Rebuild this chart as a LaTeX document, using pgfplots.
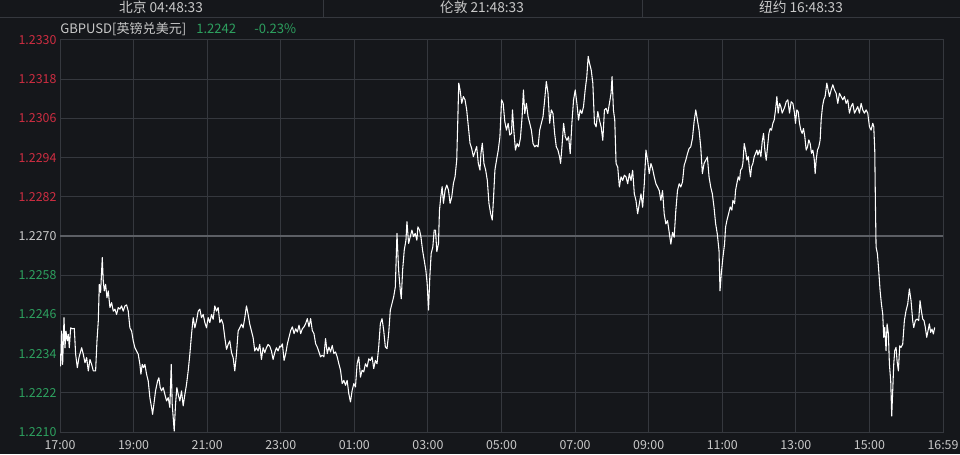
\documentclass[border=0pt]{standalone}
\usepackage{pgfplots}
\pgfplotsset{compat=1.18}
\usepackage{pgfplotstable}
\usepackage{fontspec}
\setmainfont{Noto Sans CJK SC}

\definecolor{bg}{HTML}{15171B}
\definecolor{gridc}{HTML}{35383E}
\definecolor{gridhi}{HTML}{5C5F65}
\definecolor{txt}{HTML}{C8C8C8}
\definecolor{upred}{RGB}{205,45,65}
\definecolor{dngreen}{RGB}{45,160,95}

% GBPUSD, hours after 17:00 vs price
\pgfplotstableread{
h v
0.000 1.22338
0.018 1.22302
0.045 1.22409
0.072 1.22307
0.109 1.22450
0.136 1.22358
0.163 1.22409
0.199 1.22379
0.226 1.22399
0.253 1.22358
0.290 1.22419
0.335 1.22416
0.389 1.22417
0.425 1.22338
0.471 1.22297
0.516 1.22328
0.588 1.22358
0.633 1.22338
0.679 1.22312
0.724 1.22328
0.769 1.22287
0.814 1.22322
0.860 1.22307
0.905 1.22287
0.968 1.22287
1.005 1.22379
1.041 1.22440
1.068 1.22552
1.104 1.22527
1.149 1.22634
1.176 1.22562
1.204 1.22532
1.240 1.22552
1.276 1.22511
1.312 1.22532
1.357 1.22481
1.403 1.22496
1.448 1.22470
1.493 1.22476
1.538 1.22460
1.584 1.22481
1.629 1.22476
1.674 1.22486
1.719 1.22470
1.765 1.22486
1.810 1.22489
1.855 1.22470
1.900 1.22419
1.946 1.22409
1.991 1.22379
2.036 1.22358
2.081 1.22348
2.127 1.22338
2.172 1.22307
2.199 1.22277
2.235 1.22307
2.271 1.22297
2.308 1.22307
2.353 1.22277
2.398 1.22256
2.443 1.22205
2.489 1.22175
2.516 1.22154
2.552 1.22185
2.597 1.22226
2.652 1.22256
2.688 1.22266
2.724 1.22236
2.760 1.22226
2.805 1.22236
2.851 1.22215
2.896 1.22195
2.941 1.22205
2.986 1.22175
3.023 1.22307
3.050 1.22185
3.077 1.22144
3.104 1.22103
3.140 1.22185
3.176 1.22236
3.213 1.22215
3.258 1.22195
3.303 1.22226
3.348 1.22180
3.394 1.22215
3.439 1.22246
3.484 1.22287
3.529 1.22338
3.575 1.22399
3.620 1.22450
3.665 1.22419
3.710 1.22440
3.756 1.22470
3.801 1.22476
3.846 1.22450
3.891 1.22460
3.937 1.22435
3.982 1.22419
4.027 1.22450
4.072 1.22435
4.118 1.22460
4.163 1.22445
4.208 1.22486
4.253 1.22470
4.299 1.22481
4.344 1.22435
4.389 1.22445
4.434 1.22430
4.480 1.22389
4.525 1.22353
4.570 1.22368
4.615 1.22379
4.661 1.22343
4.706 1.22328
4.751 1.22287
4.796 1.22338
4.842 1.22409
4.887 1.22419
4.932 1.22430
4.977 1.22419
5.023 1.22450
5.068 1.22486
5.113 1.22460
5.158 1.22430
5.204 1.22409
5.249 1.22389
5.294 1.22348
5.339 1.22358
5.385 1.22348
5.430 1.22368
5.475 1.22322
5.520 1.22358
5.566 1.22343
5.611 1.22358
5.656 1.22368
5.701 1.22363
5.747 1.22348
5.792 1.22322
5.837 1.22343
5.882 1.22358
5.928 1.22348
5.973 1.22363
6.000 1.22360
6.045 1.22370
6.090 1.22319
6.135 1.22340
6.181 1.22370
6.226 1.22391
6.271 1.22411
6.316 1.22422
6.361 1.22401
6.406 1.22416
6.451 1.22406
6.496 1.22427
6.542 1.22401
6.587 1.22416
6.632 1.22422
6.677 1.22432
6.722 1.22447
6.767 1.22422
6.812 1.22447
6.857 1.22411
6.903 1.22401
6.948 1.22370
6.993 1.22360
7.038 1.22345
7.083 1.22330
7.128 1.22335
7.173 1.22330
7.218 1.22386
7.264 1.22340
7.309 1.22360
7.354 1.22345
7.399 1.22365
7.444 1.22340
7.489 1.22345
7.534 1.22330
7.579 1.22309
7.625 1.22289
7.670 1.22248
7.715 1.22258
7.760 1.22243
7.805 1.22258
7.850 1.22217
7.895 1.22192
7.940 1.22227
7.986 1.22248
8.031 1.22238
8.076 1.22309
8.121 1.22330
8.166 1.22268
8.211 1.22289
8.256 1.22284
8.301 1.22309
8.347 1.22299
8.392 1.22324
8.437 1.22319
8.482 1.22330
8.527 1.22294
8.572 1.22319
8.617 1.22309
8.662 1.22360
8.708 1.22432
8.753 1.22447
8.798 1.22411
8.843 1.22360
8.888 1.22355
8.933 1.22401
8.978 1.22473
9.023 1.22493
9.069 1.22514
9.114 1.22544
9.159 1.22708
9.204 1.22595
9.249 1.22534
9.276 1.22508
9.312 1.22595
9.357 1.22657
9.403 1.22687
9.430 1.22744
9.475 1.22677
9.520 1.22698
9.565 1.22718
9.610 1.22698
9.655 1.22708
9.700 1.22687
9.727 1.22728
9.773 1.22718
9.809 1.22698
9.854 1.22657
9.899 1.22626
9.944 1.22595
9.980 1.22554
10.016 1.22473
10.052 1.22575
10.088 1.22646
10.134 1.22667
10.170 1.22718
10.206 1.22718
10.242 1.22652
10.287 1.22677
10.314 1.22779
10.350 1.22820
10.386 1.22851
10.422 1.22800
10.468 1.22841
10.513 1.22856
10.558 1.22841
10.603 1.22800
10.648 1.22820
10.693 1.22861
10.738 1.22882
10.783 1.22933
10.810 1.23045
10.838 1.23168
10.874 1.23147
10.919 1.23106
10.964 1.23127
11.009 1.23117
11.054 1.23086
11.099 1.23035
11.144 1.22984
11.189 1.22968
11.235 1.22943
11.280 1.22958
11.325 1.22974
11.370 1.22922
11.415 1.22902
11.442 1.22953
11.478 1.22984
11.523 1.22922
11.569 1.22902
11.614 1.22871
11.659 1.22800
11.704 1.22769
11.749 1.22749
11.785 1.22820
11.821 1.22902
11.866 1.22933
11.912 1.22963
11.957 1.23004
12.002 1.23117
12.045 1.23106
12.090 1.23050
12.135 1.23024
12.181 1.23045
12.226 1.23009
12.271 1.23014
12.298 1.23086
12.334 1.23024
12.379 1.22963
12.424 1.22983
12.469 1.22973
12.514 1.22999
12.560 1.23065
12.596 1.23147
12.632 1.23075
12.677 1.23106
12.722 1.23065
12.767 1.23045
12.812 1.23024
12.857 1.22983
12.903 1.22973
12.948 1.22978
12.993 1.22973
13.038 1.23024
13.083 1.23045
13.128 1.23065
13.173 1.23116
13.218 1.23173
13.264 1.23137
13.309 1.23045
13.354 1.23086
13.399 1.23075
13.444 1.23014
13.489 1.22973
13.534 1.22963
13.579 1.22942
13.606 1.22922
13.643 1.22973
13.688 1.23045
13.733 1.23004
13.778 1.22993
13.823 1.23004
13.868 1.22952
13.913 1.23045
13.958 1.23116
14.004 1.23147
14.049 1.23106
14.094 1.23055
14.139 1.23086
14.184 1.23075
14.229 1.23096
14.274 1.23147
14.319 1.23188
14.356 1.23250
14.392 1.23229
14.437 1.23209
14.482 1.23168
14.527 1.23045
14.572 1.23034
14.617 1.23081
14.662 1.23055
14.708 1.23034
14.753 1.22993
14.798 1.23086
14.843 1.23091
14.888 1.23075
14.933 1.23106
14.978 1.23137
15.005 1.23188
15.042 1.23086
15.078 1.23055
15.114 1.22922
15.159 1.22911
15.204 1.22850
15.249 1.22881
15.294 1.22870
15.339 1.22886
15.384 1.22881
15.430 1.22860
15.475 1.22891
15.520 1.22870
15.565 1.22901
15.610 1.22829
15.655 1.22809
15.700 1.22768
15.745 1.22798
15.791 1.22829
15.836 1.22788
15.881 1.22860
15.926 1.22963
15.971 1.22932
16.016 1.22891
16.061 1.22922
16.106 1.22906
16.152 1.22881
16.197 1.22860
16.242 1.22850
16.287 1.22839
16.332 1.22809
16.377 1.22839
16.422 1.22768
16.467 1.22737
16.513 1.22747
16.558 1.22711
16.603 1.22675
16.648 1.22711
16.693 1.22696
16.738 1.22778
16.783 1.22839
16.829 1.22860
16.874 1.22850
16.919 1.22865
16.964 1.22916
17.009 1.22932
17.054 1.22952
17.099 1.22968
17.144 1.22973
17.190 1.22999
17.235 1.23050
17.280 1.23086
17.325 1.23055
17.370 1.23024
17.415 1.22973
17.460 1.22891
17.505 1.22922
17.551 1.22932
17.596 1.22942
17.641 1.22881
17.686 1.22850
17.731 1.22829
17.776 1.22788
17.821 1.22737
17.866 1.22706
17.912 1.22655
17.939 1.22532
17.973 1.22584
18.018 1.22635
18.063 1.22676
18.090 1.22727
18.127 1.22748
18.172 1.22768
18.217 1.22789
18.262 1.22779
18.290 1.22809
18.335 1.22799
18.362 1.22840
18.398 1.22861
18.434 1.22881
18.471 1.22871
18.498 1.22902
18.534 1.22907
18.561 1.22922
18.597 1.22983
18.633 1.22963
18.670 1.22932
18.706 1.22943
18.742 1.22902
18.769 1.22881
18.796 1.22912
18.833 1.22922
18.869 1.22943
18.905 1.22953
18.941 1.22963
18.968 1.22948
19.014 1.22963
19.050 1.22943
19.086 1.22989
19.122 1.23014
19.158 1.22963
19.195 1.22932
19.231 1.22973
19.267 1.23014
19.303 1.23029
19.339 1.23024
19.376 1.23045
19.412 1.23055
19.448 1.23086
19.484 1.23127
19.520 1.23076
19.557 1.23106
19.593 1.23096
19.629 1.23076
19.665 1.23086
19.701 1.23096
19.738 1.23111
19.783 1.23117
19.828 1.23076
19.873 1.23111
19.919 1.23106
19.964 1.23076
19.991 1.23045
20.027 1.23086
20.063 1.23081
20.100 1.23045
20.136 1.23024
20.172 1.23014
20.208 1.23029
20.244 1.23004
20.281 1.22963
20.317 1.22973
20.353 1.22994
20.389 1.22983
20.425 1.22953
20.462 1.22963
20.498 1.22937
20.525 1.22891
20.552 1.22932
20.588 1.22963
20.624 1.22973
20.661 1.22994
20.688 1.23055
20.724 1.23096
20.760 1.23117
20.796 1.23127
20.842 1.23168
20.878 1.23147
20.914 1.23127
20.959 1.23147
21.005 1.23163
21.050 1.23147
21.095 1.23137
21.140 1.23106
21.186 1.23137
21.231 1.23127
21.276 1.23117
21.321 1.23127
21.367 1.23106
21.412 1.23117
21.457 1.23076
21.502 1.23096
21.548 1.23106
21.593 1.23076
21.638 1.23086
21.683 1.23096
21.729 1.23076
21.774 1.23106
21.819 1.23086
21.864 1.23076
21.910 1.23086
21.955 1.23076
22.000 1.23035
22.045 1.23024
22.090 1.23045
22.118 1.23035
22.145 1.22963
22.163 1.22799
22.181 1.22666
22.217 1.22646
22.253 1.22594
22.290 1.22533
22.326 1.22492
22.362 1.22461
22.389 1.22390
22.416 1.22420
22.452 1.22349
22.480 1.22431
22.516 1.22400
22.543 1.22308
22.579 1.22256
22.606 1.22149
22.633 1.22226
22.661 1.22308
22.688 1.22349
22.724 1.22359
22.751 1.22318
22.787 1.22287
22.824 1.22364
22.860 1.22359
22.905 1.22369
22.950 1.22441
22.995 1.22471
23.041 1.22492
23.086 1.22538
23.131 1.22502
23.176 1.22441
23.204 1.22420
23.249 1.22441
23.294 1.22446
23.339 1.22441
23.376 1.22502
23.412 1.22471
23.448 1.22446
23.484 1.22441
23.520 1.22420
23.557 1.22390
23.593 1.22410
23.629 1.22431
23.665 1.22405
23.701 1.22415
23.738 1.22400
23.774 1.22420
}\gbp

\begin{document}
\begin{tikzpicture}[font=\fontsize{9.3}{10}\selectfont]
% canvas 960x454 px, 1px = 0.75pt
\fill[bg, use as bounding box] (0,0) rectangle (720pt,340.5pt);

\begin{axis}[
    at={(45pt,16.5pt)}, anchor=south west,
    scale only axis,
    width=662.25pt, height=294pt,
    xmin=0, xmax=24,
    ymin=1.2210, ymax=1.2330,
    xtick={0,2,...,24},
    xticklabels={17:00,19:00,21:00,23:00,01:00,03:00,05:00,07:00,09:00,11:00,13:00,15:00,16:59},
    ytick={1.2210,1.2222,1.2234,1.2246,1.2258,1.2270,1.2282,1.2294,1.2306,1.2318,1.2330},
    yticklabels={
      \textcolor{dngreen}{1.2210},\textcolor{dngreen}{1.2222},\textcolor{dngreen}{1.2234},
      \textcolor{dngreen}{1.2246},\textcolor{dngreen}{1.2258},\textcolor{txt}{1.2270},
      \textcolor{upred}{1.2282},\textcolor{upred}{1.2294},\textcolor{upred}{1.2306},
      \textcolor{upred}{1.2318},\textcolor{upred}{1.2330}},
    /pgf/number format/assume math mode=true,
    major tick length=0pt,
    xmajorgrids, ymajorgrids,
    grid style={draw=gridc, line width=0.75pt},
    axis line style={draw=gridc, line width=0.75pt},
    xticklabel style={text=txt, inner sep=2pt, yshift=-4pt},
    yticklabel style={inner sep=2.5pt},
]
\addplot[draw=gridhi, line width=0.9pt, forget plot] coordinates {(0,1.2270) (24,1.2270)};
\addplot[white, line width=0.8pt, line join=round] table[x=h, y=v] {\gbp};
\end{axis}

\begin{scope}[x=0.75pt, y=-0.75pt, shift={(0pt,340.5pt)}]
  \draw[gridc, line width=0.75pt] (0,18) -- (960,18);
  \draw[gridc, line width=0.75pt] (323,0) -- (323,18);
  \draw[gridc, line width=0.75pt] (642,0) -- (642,18);
  \begin{scope}[inner sep=0pt]
    \node[anchor=base, text=txt, font=\fontsize{10.3}{12}\selectfont] at (161,13) {北京 04:48:33};
    \node[anchor=base, text=txt, font=\fontsize{10.3}{12}\selectfont] at (482,13) {伦敦 21:48:33};
    \node[anchor=base, text=txt, font=\fontsize{10.3}{12}\selectfont] at (801,13) {纽约 16:48:33};
    \node[anchor=base west, text=txt, font=\fontsize{9.8}{11}\selectfont] at (60,34) {GBPUSD[英镑兑美元]};
    \node[anchor=base west, text=dngreen, font=\fontsize{9.8}{11}\selectfont] at (196,34) {1.2242};
    \node[anchor=base west, text=dngreen, font=\fontsize{9.8}{11}\selectfont] at (254,34) {-0.23\%};
  \end{scope}
\end{scope}
\end{tikzpicture}
\end{document}
